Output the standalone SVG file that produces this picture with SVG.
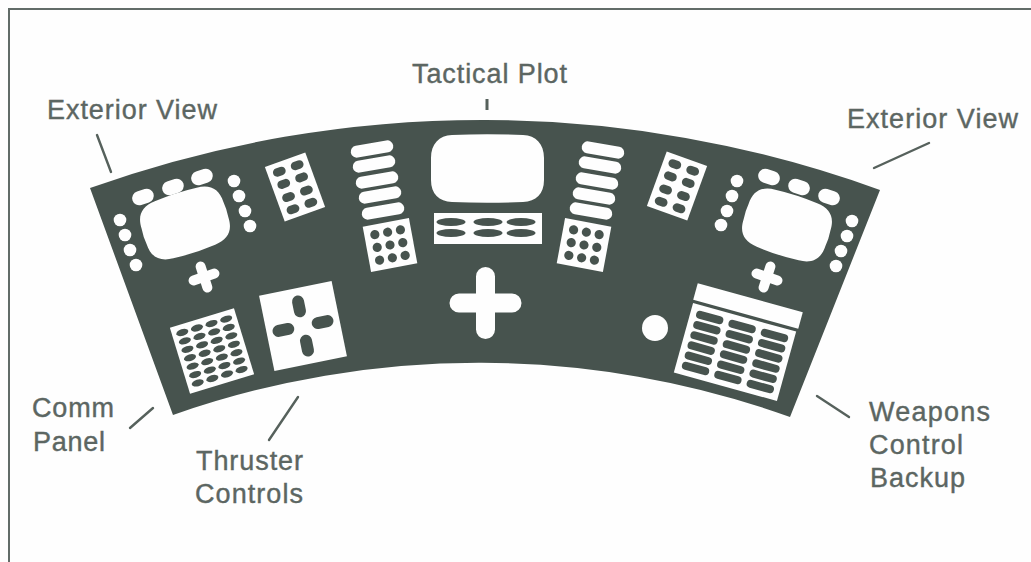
<svg xmlns="http://www.w3.org/2000/svg" width="1031" height="562" viewBox="0 0 1031 562">
<style>
.panel{fill:#47534e}
.w{fill:#fefefe}
.d{fill:#47534e}
.frame{fill:none;stroke:#626c68;stroke-width:2}
.c{fill:none;stroke:#56615c;stroke-width:2.400;stroke-linecap:round}
text{font-family:"Liberation Sans",Arial,sans-serif;font-size:27px;fill:#5c6662;stroke:#5c6662;stroke-width:.4}
</style>
<defs>
<rect id="pill" class="w" x="-11" y="-7" width="22" height="14" rx="7"/>
<rect id="bar" class="w" x="-21.500" y="-6" width="43" height="12" rx="6"/>
<rect id="oval8" class="d" x="-6.500" y="-4" width="13" height="8.500" rx="4.200"/>
<ellipse id="oval12" class="d" rx="6.200" ry="3.300"/>
<rect id="oval28" class="d" x="-14" y="-4" width="28" height="8" rx="4"/>
<ellipse id="oval29" class="d" rx="14.500" ry="4"/>
<path id="screen" class="w" d="M-22,-30Q0,-32 22,-30C36,-29 43,-22 43,-8Q44,0 43,8C43,22 36,29 22,30Q0,32 -22,30C-36,29 -43,22 -43,8Q-44,0 -43,-8C-43,-22 -36,-29 -22,-30Z"/>
<path id="plusS" class="w" d="M-5,-11a5,5 0 0 1 10,0v6h6a5,5 0 0 1 0,10h-6v6a5,5 0 0 1 -10,0v-6h-6a5,5 0 0 1 0,-10h6z"/>
<g id="keys8">
<rect class="w" x="-21.500" y="-29" width="43" height="58"/>
<use href="#oval8" x="-9.500" y="-20"/><use href="#oval8" x="9.500" y="-20"/>
<use href="#oval8" x="-9.500" y="-7"/><use href="#oval8" x="9.500" y="-7"/>
<use href="#oval8" x="-9.500" y="7"/><use href="#oval8" x="9.500" y="7"/>
<use href="#oval8" x="-9.500" y="20"/><use href="#oval8" x="9.500" y="20"/>
</g>
<g id="keys9">
<rect class="w" x="-23.500" y="-23" width="47" height="46"/>
<circle class="d" cx="-13" cy="-13" r="4.600"/><circle class="d" cx="0" cy="-13" r="4.600"/><circle class="d" cx="13" cy="-13" r="4.600"/>
<circle class="d" cx="-13" cy="0" r="4.600"/><circle class="d" cx="0" cy="0" r="4.600"/><circle class="d" cx="13" cy="0" r="4.600"/>
<circle class="d" cx="-13" cy="13" r="4.600"/><circle class="d" cx="0" cy="13" r="4.600"/><circle class="d" cx="13" cy="13" r="4.600"/>
</g>
</defs>
<rect width="1031" height="562" fill="#fefefe"/>
<path class="frame" d="M9,562V9H1031"/>

<path id="console" class="panel" d="M90,188A1165,1165 0 0 1 880,190L790,417A921,921 0 0 0 173,415Z"/>

<g id="exterior-view-left">
<use href="#screen" transform="translate(185,223) rotate(-18)"/>
<use href="#pill" transform="translate(143,197) rotate(-18)"/>
<use href="#pill" transform="translate(173,187) rotate(-18)"/>
<use href="#pill" transform="translate(202,177) rotate(-18)"/>
<circle class="w" cx="120" cy="220" r="6.300"/><circle class="w" cx="125" cy="235" r="6.300"/><circle class="w" cx="130" cy="250" r="6.300"/><circle class="w" cx="136" cy="265" r="6.300"/>
<circle class="w" cx="234" cy="181" r="6.300"/><circle class="w" cx="239" cy="196" r="6.300"/><circle class="w" cx="245" cy="211" r="6.300"/><circle class="w" cx="250" cy="226" r="6.300"/>
<use href="#plusS" transform="translate(204,277) rotate(-18)"/>
</g>

<g id="keypad-left"><use href="#keys8" transform="translate(295,187) rotate(-20)"/></g>

<g id="comm-panel" transform="translate(212,351) rotate(-17)">
<rect class="w" x="-33.500" y="-34.500" width="67" height="69"/>
<g id="comm-col">
<use href="#oval12" x="-23" y="-26.400"/><use href="#oval12" x="-23" y="-17.600"/><use href="#oval12" x="-23" y="-8.800"/><use href="#oval12" x="-23" y="0"/><use href="#oval12" x="-23" y="8.800"/><use href="#oval12" x="-23" y="17.600"/><use href="#oval12" x="-23" y="26.400"/>
</g>
<use href="#comm-col" x="15.300"/><use href="#comm-col" x="30.600"/><use href="#comm-col" x="45.900"/>
</g>

<g id="thruster-controls" transform="translate(303,326) rotate(-11.500)">
<rect class="w" x="-37" y="-38.500" width="74" height="77"/>
<rect class="d" x="-6" y="-31" width="12" height="22" rx="6"/>
<rect class="d" x="-6" y="9" width="12" height="22" rx="6"/>
<rect class="d" x="-31" y="-6" width="22" height="12" rx="6"/>
<rect class="d" x="9" y="-6" width="22" height="12" rx="6"/>
</g>

<g id="bars-left">
<use href="#bar" transform="translate(372,149) rotate(-10)"/>
<use href="#bar" transform="translate(374,164) rotate(-10)"/>
<use href="#bar" transform="translate(377,180) rotate(-10)"/>
<use href="#bar" transform="translate(380,195) rotate(-10)"/>
<use href="#bar" transform="translate(383,211) rotate(-10)"/>
<use href="#keys9" transform="translate(390,245) rotate(-10.500)"/>
</g>

<g id="tactical-plot">
<path class="w" d="M452,135Q487,133.500 523,135C536,135.500 544,144 544,158V180C544,194 536,201.500 523,202Q487,203.500 452,202C439,201.500 431,194 431,180V158C431,144 439,135.500 452,135Z"/>
<rect class="w" x="434" y="213" width="108" height="31"/>
<use href="#oval29" x="451" y="222"/><use href="#oval29" x="488" y="222"/><use href="#oval29" x="521" y="222"/>
<use href="#oval29" x="451" y="233"/><use href="#oval29" x="488" y="233"/><use href="#oval29" x="521" y="233"/>
</g>

<g id="center-plus">
<path class="w" d="M476,276.500a9.500,9.500 0 0 1 19,0v17h17a9.500,9.500 0 0 1 0,19h-17v17a9.500,9.500 0 0 1 -19,0v-17h-17a9.500,9.500 0 0 1 0,-19h17z"/>
</g>

<g id="bars-right">
<use href="#bar" transform="translate(603,150) rotate(10)"/>
<use href="#bar" transform="translate(600,165) rotate(10)"/>
<use href="#bar" transform="translate(597,181) rotate(10)"/>
<use href="#bar" transform="translate(594,196) rotate(10)"/>
<use href="#bar" transform="translate(591,211) rotate(10)"/>
<use href="#keys9" transform="translate(584,245) rotate(10.500)"/>
</g>

<g id="keypad-right"><use href="#keys8" transform="translate(677,186) rotate(20)"/></g>

<g id="exterior-view-right">
<use href="#screen" transform="translate(787,225) rotate(18)"/>
<use href="#pill" transform="translate(769,177) rotate(18)"/>
<use href="#pill" transform="translate(799,187) rotate(18)"/>
<use href="#pill" transform="translate(829,197) rotate(18)"/>
<circle class="w" cx="737" cy="181" r="6.300"/><circle class="w" cx="732" cy="196" r="6.300"/><circle class="w" cx="727" cy="211" r="6.300"/><circle class="w" cx="721" cy="225" r="6.300"/>
<circle class="w" cx="852" cy="221" r="6.300"/><circle class="w" cx="847" cy="236" r="6.300"/><circle class="w" cx="841" cy="251" r="6.300"/><circle class="w" cx="836" cy="266" r="6.300"/>
<use href="#plusS" transform="translate(767,277) rotate(18)"/>
</g>

<g id="indicator"><circle class="w" cx="655" cy="328" r="13"/></g>

<g id="weapons-control-backup">
<rect class="w" x="-54.500" y="-8.500" width="109" height="17" transform="translate(748,306) rotate(15.500)"/>
<g transform="translate(735,352) rotate(15.500)">
<rect class="w" x="-53.500" y="-36" width="107" height="72"/>
<g id="wcol">
<use href="#oval28" x="-33.600" y="-26.500"/><use href="#oval28" x="-33.600" y="-15.900"/><use href="#oval28" x="-33.600" y="-5.300"/><use href="#oval28" x="-33.600" y="5.300"/><use href="#oval28" x="-33.600" y="15.900"/><use href="#oval28" x="-33.600" y="26.500"/>
</g>
<use href="#wcol" x="33.600"/><use href="#wcol" x="67.200"/>
</g>
</g>

<g id="connectors">
<line class="c" x1="97" y1="135" x2="111" y2="172"/>
<line class="c" x1="874" y1="168" x2="929" y2="143"/>
<line class="c" x1="487" y1="99" x2="487" y2="110" style="stroke-width:3;stroke-linecap:butt"/>
<line class="c" x1="130" y1="428" x2="153" y2="408"/>
<line class="c" x1="269" y1="440" x2="298" y2="397"/>
<line class="c" x1="817" y1="396" x2="849" y2="417"/>
</g>

<g id="labels">
<text x="47" y="119" textLength="170">Exterior View</text>
<text x="847" y="128" textLength="171">Exterior View</text>
<text x="412" y="83" textLength="155">Tactical Plot</text>
<text x="32" y="417" textLength="82">Comm</text>
<text x="33" y="451" textLength="72">Panel</text>
<text x="196" y="470" textLength="107">Thruster</text>
<text x="195" y="503" textLength="108">Controls</text>
<text x="869" y="421" textLength="121">Weapons</text>
<text x="869" y="454" textLength="94">Control</text>
<text x="870" y="487" textLength="95">Backup</text>
</g>
</svg>
